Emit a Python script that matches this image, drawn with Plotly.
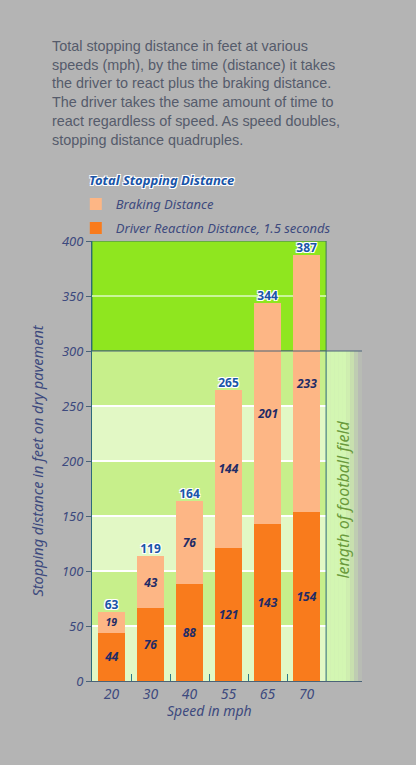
import plotly.graph_objects as go

speeds = ["20", "30", "40", "55", "65", "70"]
reaction = [44, 66, 88, 121, 143, 154]
braking = [19, 48, 76, 144, 201, 233]
reaction_labels = ["44", "76", "88", "121", "143", "154"]
braking_labels = ["19", "43", "76", "144", "201", "233"]
total_labels = ["63", "119", "164", "265", "344", "387"]
y_ticks = [0, 50, 100, 150, 200, 250, 300, 350, 400]
football_field = 300

x = list(range(len(speeds)))
totals = [r + b for r, b in zip(reaction, braking)]

hand = "Noto Sans"
ink = "#3d4a7e"
label_ink = "#1f2b66"
total_ink = "#1a55a8"
bg = "#b4b4b4"
outline = "-1px -1px 0 #fff, 1px -1px 0 #fff, -1px 1px 0 #fff, 1px 1px 0 #fff"

x_end = len(speeds) - 0.5
x_far = x_end + 0.92

fig = go.Figure()
fig.add_trace(go.Bar(
    x=x, y=reaction, name="Driver Reaction Distance, 1.5 seconds", legendgroup="r", legendrank=2,
    marker=dict(color="#f97b1c", line=dict(width=0)), width=0.7,
    text=reaction_labels, textposition="inside", insidetextanchor="middle",
    textfont=dict(family=hand, size=12, color=label_ink, weight="bold", style="italic"),
    textangle=0, hoverinfo="skip",
))
fig.add_trace(go.Bar(
    x=x, y=braking, name="Braking Distance", legendgroup="b", legendrank=1,
    marker=dict(color="#fdb685", line=dict(width=0)), width=0.7,
    text=braking_labels, textposition="inside", insidetextanchor="middle",
    textfont=dict(family=hand, size=12, color=label_ink, weight="bold", style="italic"),
    textangle=0, hoverinfo="skip",
))
fig.add_trace(go.Scatter(
    x=x, y=totals, mode="text", text=total_labels, textposition="top center",
    textfont=dict(family=hand, size=12, color=total_ink, weight="bold", shadow=outline),
    showlegend=False, hoverinfo="skip", cliponaxis=False,
))

shapes = []
# bright green zone above the football field
shapes.append(dict(type="rect", xref="x", yref="y", x0=-0.5, x1=x_end, y0=football_field, y1=400,
                   fillcolor="#8fe61f", line=dict(color="#3f7a5a", width=1), layer="below"))
# alternating bands below
for i in range(0, football_field, 50):
    col = "#e2f8c5" if (i // 50) % 2 == 0 else "#c7ef8b"
    shapes.append(dict(type="rect", xref="x", yref="y", x0=-0.5, x1=x_end, y0=i, y1=i + 50,
                       fillcolor=col, line=dict(width=0), layer="below"))
# football field column with fade to grey
fades = ["#d3f6b2", "#d3f6b2", "#d3f6b2", "#d3f6b2", "#d3f6b2", "#cfeeb0", "#c8e0ae", "#bfcdb2", "#b8bcb4"]
step = (x_far - x_end) / len(fades)
for k, col in enumerate(fades):
    shapes.append(dict(type="rect", xref="x", yref="y", x0=x_end + k * step, x1=x_end + (k + 1) * step + 0.01,
                       y0=0, y1=football_field, fillcolor=col, line=dict(width=0), layer="below"))
# white grid lines
for t in y_ticks[1:-1]:
    if t == football_field:
        continue
    shapes.append(dict(type="line", xref="x", yref="y", x0=-0.5, x1=x_end, y0=t, y1=t,
                       line=dict(color="#ffffff" if t < football_field else "#c9f59a", width=2), layer="below"))
shapes.append(dict(type="line", xref="x", yref="y", x0=-0.5, x1=x_far, y0=football_field, y1=football_field,
                   line=dict(color="#4a6378", width=1)))
shapes.append(dict(type="line", xref="x", yref="y", x0=x_end, x1=x_end, y0=0, y1=football_field,
                   line=dict(color="#2e6a7a", width=1)))

desc = ("Total stopping distance in feet at various<br>"
        "speeds (mph), by the time (distance) it takes<br>"
        "the driver to react plus the braking distance.<br>"
        "The driver takes the same amount of time to<br>"
        "react regardless of speed. As speed doubles,<br>"
        "stopping distance quadruples.")

fig.update_layout(
    width=416, height=765,
    margin=dict(l=92, r=54, t=241, b=84),
    paper_bgcolor=bg, plot_bgcolor=bg,
    barmode="stack", bargap=0.3,
    showlegend=True,
    legend=dict(
        x=-0.06, y=1.118, xanchor="left", yanchor="top",
        bgcolor="rgba(0,0,0,0)",
        font=dict(family=hand, size=13, color=ink, style="italic"),
        traceorder="grouped", tracegroupgap=4, itemwidth=30,
    ),
    shapes=shapes,
    xaxis=dict(
        range=[-0.5, x_far], tickvals=x, ticktext=speeds, ticks="",
        showgrid=False, zeroline=False, showline=True, linecolor="#4a6378", linewidth=1,
        tickfont=dict(family=hand, size=14, color=ink, style="italic"),
        minor=dict(tickvals=[i + 0.5 for i in x[:-1]], ticks="inside", ticklen=7,
                   tickcolor="#2e7a8a", tickwidth=1, showgrid=False),
    ),
    yaxis=dict(
        range=[0, 400], tickvals=y_ticks, ticks="outside", ticklen=5, tickcolor="#4a6378",
        showgrid=False, zeroline=False, showline=True, linecolor="#2e6a7a", linewidth=1,
        tickfont=dict(family=hand, size=13, color=ink, style="italic"),
        title=dict(text="Stopping distance in feet on dry pavement", standoff=14,
                   font=dict(family=hand, size=14.5, color=ink, style="italic")),
    ),
    annotations=[
        dict(text=desc, xref="paper", yref="paper", x=-0.156, y=1.465, xanchor="left", yanchor="top",
             align="left", showarrow=False,
             font=dict(family="Liberation Sans", size=14.4, color="#555b6b")),
        dict(text="Total Stopping Distance", xref="paper", yref="paper", x=-0.02, y=1.114,
             xanchor="left", yanchor="bottom", showarrow=False,
             font=dict(family=hand, size=13, color=total_ink, weight="bold", style="italic", shadow=outline)),
        dict(text="Speed in mph", xref="x", yref="paper", x=(len(speeds) - 1) / 2, y=-0.04,
             xanchor="center", yanchor="top", showarrow=False,
             font=dict(family=hand, size=14, color=ink, style="italic")),
        dict(text="length of football field", xref="x", yref="y", x=(x_end + x_far) / 2 - 0.05, y=165,
             textangle=-90, showarrow=False,
             font=dict(family=hand, size=16, color="#6a9a3c", style="italic")),
    ],
)

fig.write_html("out.html", config={"displayModeBar": False},
               post_script="document.body.style.margin='0';")
